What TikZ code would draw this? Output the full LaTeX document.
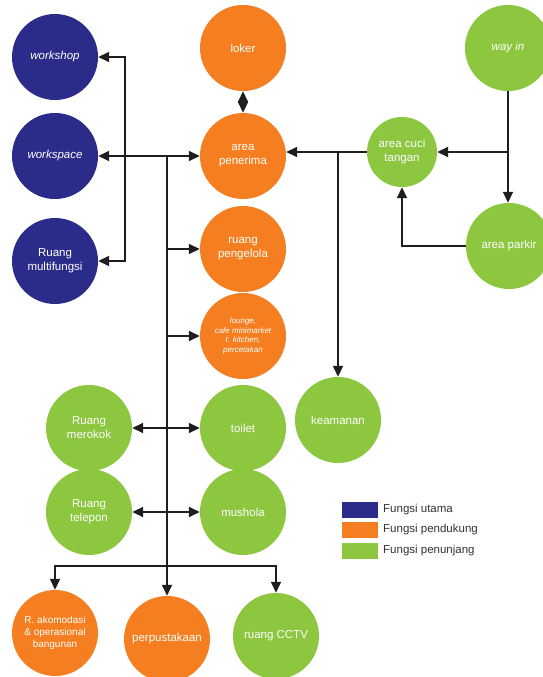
\documentclass[tikz,border=0pt]{standalone}
\usepackage{fontspec}
\setmainfont{Liberation Sans}
\usetikzlibrary{arrows.meta}
\definecolor{cblue}{HTML}{2B2C8A}
\definecolor{corange}{HTML}{F47E20}
\definecolor{cgreen}{HTML}{8DC63F}
\definecolor{cline}{HTML}{1E1E1E}
\definecolor{ctext}{HTML}{333333}
\begin{document}
\begin{tikzpicture}[x=1pt,y=-1pt,
  circ/.style={circle,minimum size=86pt,inner sep=0pt,text=white,align=center,
    font=\fontsize{11.5}{14}\selectfont},
  ublue/.style={circ,fill=cblue},
  uorange/.style={circ,fill=corange},
  ugreen/.style={circ,fill=cgreen},
  conn/.style={draw=cline,line width=1.6pt,-{Triangle[length=11pt,width=10pt]}},
  conntwo/.style={draw=cline,line width=1.6pt,{Triangle[length=11pt,width=10pt]}-{Triangle[length=11pt,width=10pt]}},
  legbox/.style={minimum width=36pt,minimum height=16pt,inner sep=0pt},
  legtext/.style={anchor=west,text=ctext,inner sep=0pt,font=\fontsize{11.5}{13}\selectfont}]
\useasboundingbox[fill=white] (0,0) rectangle (543,677);

% blue
\node[ublue] (workshop) at (55,57) {\itshape workshop};
\node[ublue] (workspace) at (55,156) {\itshape workspace};
\node[ublue] (multi) at (55,261) {Ruang\\multifungsi};

% orange column
\node[uorange] (loker) at (243,48) {loker};
\node[uorange] (penerima) at (243,156) {area\\penerima};
\node[uorange] (pengelola) at (243,249) {ruang\\pengelola};
\node[uorange,font=\fontsize{8}{9.5}\selectfont\itshape] (lounge) at (243,336) {lounge,\\cafe minimarket\\t. kitchen,\\percetakan};

% green middle
\node[ugreen] (toilet) at (243,428) {toilet};
\node[ugreen] (keamanan) at (338,420) {keamanan};
\node[ugreen] (merokok) at (89,428) {Ruang\\merokok};
\node[ugreen] (mushola) at (243,512) {mushola};
\node[ugreen] (telepon) at (89,512) {Ruang\\telepon};

% bottom
\node[uorange,font=\fontsize{10}{12}\selectfont] (akom) at (55,633) {R. akomodasi\\\& operasional\\bangunan};
\node[uorange] (perpus) at (167,639) {perpustakaan};
\node[ugreen] (cctv) at (276,636) {ruang CCTV};

% right
\node[ugreen] (wayin) at (508,48) {\itshape way in};
\node[ugreen,minimum size=70pt] (cuci) at (402,152) {area cuci\\tangan};
\node[ugreen] (parkir) at (509,246) {area parkir};

% legend
\node[legbox,fill=cblue,anchor=north west] (lb1) at (342,502) {};
\node[legbox,fill=corange,anchor=north west] (lb2) at (342,522) {};
\node[legbox,fill=cgreen,anchor=north west] (lb3) at (342,543) {};
\node[legtext] (lt1) at (383,510) {Fungsi utama};
\node[legtext] (lt2) at (383,530) {Fungsi pendukung};
\node[legtext] (lt3) at (383,551) {Fungsi penunjang};

% connectors
\coordinate (L) at (125,156);
\coordinate (T) at (167,156);
\coordinate (B) at (167,566);
\coordinate (R) at (338,152);

\draw[conntwo] (loker.south) -- (penerima.north);
\draw[conntwo] (workspace.east) -- (penerima.west);
\draw[conn] (L) |- (workshop.east);
\draw[conn] (L) |- (multi.east);

\draw[conn] (T) -- (perpus.north);
\draw[conn] (T |- pengelola.west) -- (pengelola.west);
\draw[conn] (T |- lounge.west) -- (lounge.west);
\draw[conntwo] (merokok.east) -- (toilet.west);
\draw[conntwo] (telepon.east) -- (mushola.west);
\draw[conn] (B) -| (akom.north);
\draw[conn] (B) -| (cctv.north);

\draw[conn] (cuci.west) -- (cuci.west -| penerima.east);
\draw[conn] (R) -- (keamanan.north);
\draw[conn] (wayin.south) -- (wayin.south |- parkir.north);
\draw[conn] (wayin.south |- cuci.east) -- (cuci.east);
\draw[conn] (parkir.west) -| (cuci.south);
\end{tikzpicture}
\end{document}
